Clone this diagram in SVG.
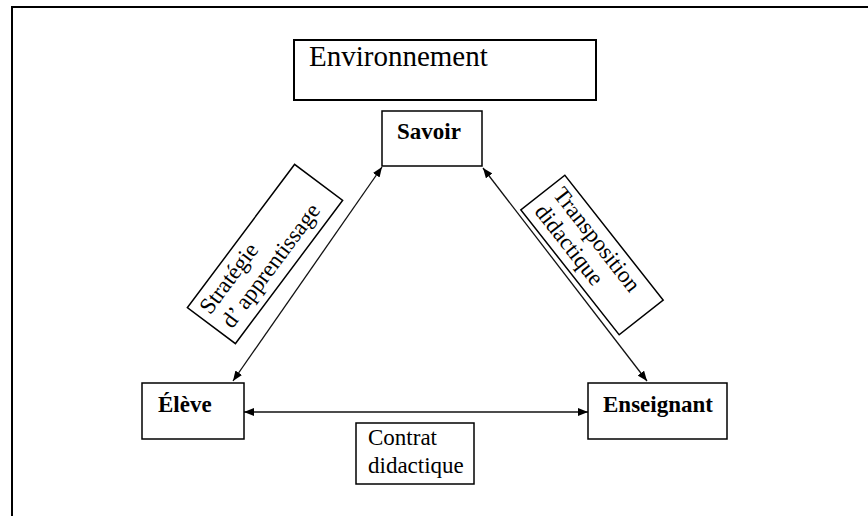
<svg xmlns="http://www.w3.org/2000/svg" width="868" height="516" viewBox="0 0 868 516">
  <defs>
    <marker id="ah" viewBox="0 0 10 8" refX="10" refY="4" markerWidth="10" markerHeight="8" markerUnits="userSpaceOnUse" orient="auto-start-reverse">
      <path d="M0,0 L10,4 L0,8 Z" fill="#000"/>
    </marker>
    <style>
      .box { fill: #fff; stroke: #000; stroke-width: 1.5; }
      text { font-family: 'Liberation Serif', Tinos, 'DejaVu Serif', 'Times New Roman', serif; font-size: 23px; fill: #000; }
      .b { font-weight: bold; }
      .conn { stroke: #111; stroke-width: 1.3; fill: none; marker-start: url(#ah); marker-end: url(#ah); }
    </style>
  </defs>
  <rect width="868" height="516" fill="#fff"/>
  <rect id="frame" x="12" y="7" width="900" height="560" fill="none" stroke="#000" stroke-width="2"/>

  <g id="connectors">
    <line class="conn" x1="233" y1="381" x2="382" y2="167"/>
    <line class="conn" x1="483" y1="168" x2="647" y2="381"/>
    <line class="conn" x1="244" y1="412" x2="588" y2="412" stroke="#444" stroke-width="2"/>
  </g>

  <g id="environnement">
    <rect x="294" y="40" width="302" height="60" fill="#fff" stroke="#000" stroke-width="2"/>
    <text x="309" y="66" font-family="Liberation Serif, serif" style="font-size:29px">Environnement</text>
  </g>

  <g id="savoir">
    <rect class="box" x="382" y="111" width="100" height="55"/>
    <text x="397" y="139" class="b" font-family="Liberation Serif, serif">Savoir</text>
  </g>

  <g id="eleve">
    <rect class="box" x="142" y="383" width="102" height="56"/>
    <text x="158" y="412" class="b" font-family="Liberation Serif, serif">Élève</text>
  </g>

  <g id="enseignant">
    <rect class="box" x="588" y="383" width="139" height="56"/>
    <text x="603" y="412" class="b" font-family="Liberation Serif, serif">Enseignant</text>
  </g>

  <g id="contrat">
    <rect class="box" x="356" y="423" width="118" height="61"/>
    <text x="368" y="445" font-family="Liberation Serif, serif">Contrat</text>
    <text x="368" y="473" font-family="Liberation Serif, serif">didactique</text>
  </g>

  <g id="strategie" transform="translate(265,254) rotate(-53.2)">
    <rect class="box" x="-89.5" y="-30" width="179" height="60"/>
    <text x="-82" y="-7" font-family="Liberation Serif, serif">Stratégie</text>
    <text x="-80" y="19" font-family="Liberation Serif, serif">d’ apprentissage</text>
  </g>

  <g id="transposition" transform="translate(592,255) rotate(51.8)">
    <rect class="box" x="-79.5" y="-28" width="159" height="56"/>
    <text x="-72" y="-6" font-family="Liberation Serif, serif">Transposition</text>
    <text x="-70" y="19" font-family="Liberation Serif, serif">didactique</text>
  </g>
</svg>
